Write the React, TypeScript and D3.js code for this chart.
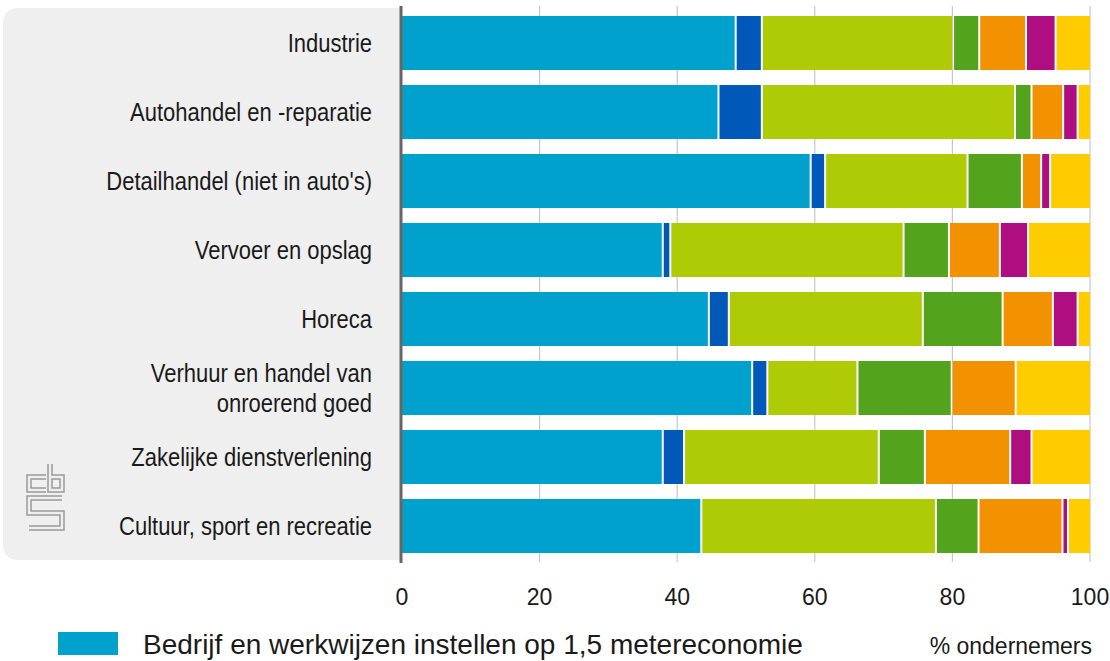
import React from "react";
import * as d3 from "d3";

const categories = [
  "Industrie",
  "Autohandel en -reparatie",
  "Detailhandel (niet in auto's)",
  "Vervoer en opslag",
  "Horeca",
  "Verhuur en handel van\nonroerend goed",
  "Zakelijke dienstverlening",
  "Cultuur, sport en recreatie",
];

const seriesKeys = ["s1", "s2", "s3", "s4", "s5", "s6", "s7"];
const legendLabel = "Bedrijf en werkwijzen instellen op 1,5 metereconomie";
const seriesColors = ["#00a1cd", "#0058b8", "#afcb05", "#53a31d", "#f39200", "#af0e80", "#ffcc00"];

const s1 = [48.5, 46.0, 59.4, 37.9, 44.6, 50.9, 37.9, 43.5];
const s2 = [3.8, 6.3, 2.1, 1.1, 2.9, 2.2, 3.1, 0];
const s3 = [27.8, 36.8, 20.7, 33.9, 28.2, 13.1, 28.3, 34.1];
const s4 = [3.8, 2.4, 7.9, 6.6, 11.6, 13.7, 6.7, 6.2];
const s5 = [6.8, 4.6, 2.8, 7.4, 7.3, 9.3, 12.4, 12.2];
const s6 = [4.3, 2.1, 1.3, 4.1, 3.6, 0, 3.1, 0.8];
const s7 = [5.0, 1.8, 5.8, 9.0, 1.8, 10.8, 8.5, 3.2];

const xTicks = [0, 20, 40, 60, 80, 100];
const unitLabel = "% ondernemers";

const FONT = "'Liberation Sans', Arial, Helvetica, sans-serif";

export default function App() {
  const W = 1110;
  const H = 661;
  const x = d3.scaleLinear().domain([0, 100]).range([402, 1090]);
  const y = d3.scaleBand<string>().domain(categories).range([16, 553]).paddingInner(0.217).paddingOuter(0);

  const seriesArrays = [s1, s2, s3, s4, s5, s6, s7];
  const rows = categories.map((c, i) => {
    const r: any = { cat: c };
    seriesKeys.forEach((k, j) => (r[k] = seriesArrays[j][i]));
    return r;
  });
  const stacked = d3.stack<any>().keys(seriesKeys)(rows);

  const gridTop = 6;
  const gridBottom = 562;

  const px0 = 3, px1 = 401, py0 = 8, py1 = 560, rr = 16;
  const panel = `M${px1},${py0} H${px0 + rr} Q${px0},${py0} ${px0},${py0 + rr} V${py1 - rr} Q${px0},${py1} ${px0 + rr},${py1} H${px1} Z`;

  const logoPaths = [
    "M19,14 H2 V27 H19",
    "M23,1 V27 H35 V14 H23",
    "M35,35 H2 V50 H35 V65 H2",
  ];

  return (
    <svg width={W} height={H} style={{ position: "absolute", left: 0, top: 0, background: "#fff" }}>
      <rect x={0} y={0} width={W} height={H} fill="#ffffff" />
      <path d={panel} fill="#efefef" />

      <g transform="translate(27,463)">
        {logoPaths.map((d, i) => (
          <path key={"lo" + i} d={d} fill="none" stroke="#9a9a9a" strokeWidth={5.5} strokeLinejoin="miter" />
        ))}
        {logoPaths.map((d, i) => (
          <path key={"li" + i} d={d} fill="none" stroke="#efefef" strokeWidth={2.5} strokeLinejoin="miter" />
        ))}
      </g>

      {xTicks.filter((t) => t > 0).map((t) => (
        <line key={"g" + t} x1={x(t)} x2={x(t)} y1={gridTop} y2={gridBottom} stroke="#c8c8c8" strokeWidth={1.2} />
      ))}

      {stacked.map((layer, j) =>
        layer.map((d, i) => {
          const v0 = d[0];
          const v1 = d[1];
          if (v1 - v0 <= 0.01) return null;
          const isFirst = v0 <= 0.001;
          const isLast = j === seriesKeys.length - 1;
          const xa = x(v0) + (isFirst ? 0 : 1);
          const xb = isLast ? x(v1) : x(v1) - 1;
          return (
            <rect
              key={`b${j}-${i}`}
              x={xa}
              y={y(categories[i])}
              width={Math.max(0, xb - xa)}
              height={y.bandwidth()}
              fill={seriesColors[j]}
            />
          );
        })
      )}

      <line x1={401} x2={401} y1={gridTop} y2={gridBottom + 1} stroke="#666666" strokeWidth={3} />

      {categories.map((c) => {
        const lines = c.split("\n");
        const cy = (y(c) as number) + y.bandwidth() / 2;
        const lh = 30;
        const startBase = cy + 9 - ((lines.length - 1) * lh) / 2;
        return (
          <g key={"lab" + c}>
            {lines.map((ln, k) => (
              <text
                key={k}
                transform={`translate(372,${startBase + k * lh}) scale(0.88,1)`}
                textAnchor="end"
                fontFamily={FONT}
                fontSize={25}
                fill="#1a1a1a"
              >
                {ln}
              </text>
            ))}
          </g>
        );
      })}

      {xTicks.map((t) => (
        <text key={"t" + t} x={x(t)} y={605} textAnchor="middle" fontFamily={FONT} fontSize={23} fill="#1a1a1a">
          {t}
        </text>
      ))}

      <rect x={58} y={632} width={60} height={23} fill={seriesColors[0]} />
      <text x={143} y={654} fontFamily={FONT} fontSize={28} fill="#1a1a1a">
        {legendLabel}
      </text>

      <text x={1092} y={654} textAnchor="end" fontFamily={FONT} fontSize={23} fill="#1a1a1a">
        {unitLabel}
      </text>
    </svg>
  );
}
